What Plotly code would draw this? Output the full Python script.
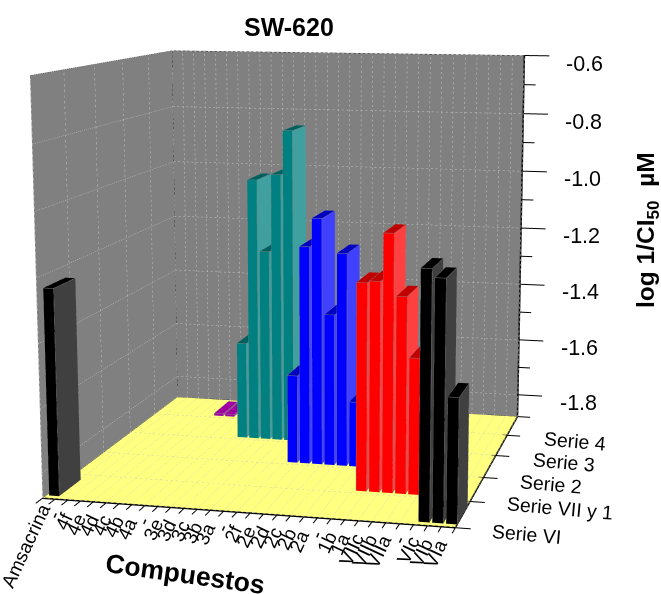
import plotly.graph_objects as go

W, H = 661, 594
x_labels = ["Amsacrina", "-", "4f", "4e", "4d", "4c", "4b", "4a", "-", "3e", "3d", "3c", "3b", "3a", "-",
            "2f", "2e", "2d", "2c", "2b", "2a", "-", "1b", "1a", "VIIc", "VIIb", "VIIa", "-", "VIc", "VIb", "VIa"]
y_labels = ["Serie VI", "Serie VII y 1", "Serie 2", "Serie 3", "Serie 4"]
z_major = [-0.6, -0.8, -1.0, -1.2, -1.4, -1.6, -1.8]
z_minor = [-0.7, -0.9, -1.1, -1.3, -1.5, -1.7]

serie_vi_names = ["Amsacrina", "VIc", "VIb", "VIa"]
serie_vi_values = [-1.235, -1.129, -1.155, -1.501]
serie_vii1_names = ["1b", "1a", "VIIc", "VIIb", "VIIa"]
serie_vii1_values = [-1.227, -1.221, -1.073, -1.264, -1.452]
serie_2_names = ["2f", "2e", "2d", "2c", "2b", "2a"]
serie_2_values = [-1.591, -1.168, -1.076, -1.385, -1.185, -1.667]
serie_3_names = ["3e", "3d", "3c", "3b", "3a"]
serie_3_values = [-1.552, -0.994, -1.234, -0.974, -0.827]
serie_4_names = ["4c", "4b"]
serie_4_values = [-1.872, -1.872]

X0, X1, Y0, Y1, Z0, Z1 = -0.62, 30.38, 0.0, 5.0, -1.88, -0.6
BW, BY0, BY1 = 0.40, 0.12, 0.80

fig = go.Figure()
FLAT = dict(ambient=1, diffuse=0, specular=0, roughness=1, fresnel=0)


def add_lines(segments, color, width):
    xs, ys, zs = [], [], []
    for a, b in segments:
        xs += [a[0], b[0], None]
        ys += [a[1], b[1], None]
        zs += [a[2], b[2], None]
    fig.add_trace(go.Scatter3d(x=xs, y=ys, z=zs, mode="lines", hoverinfo="skip", showlegend=False,
                               line=dict(color=color, width=width)))


def dotted(segments, n=75, duty=0.45):
    out = []
    for a, b in segments:
        for s in range(n):
            t0, t1 = s / n, (s + duty) / n
            out.append((tuple(a[k] + (b[k] - a[k]) * t0 for k in range(3)),
                        tuple(a[k] + (b[k] - a[k]) * t1 for k in range(3))))
    return out


def add_quad(p, color):
    fig.add_trace(go.Mesh3d(x=[q[0] for q in p], y=[q[1] for q in p], z=[q[2] for q in p],
                            i=[0, 0], j=[1, 2], k=[2, 3], color=color, flatshading=True,
                            lighting=FLAT, hoverinfo="skip", showscale=False))


def add_bars(names, values, row, front, side, top):
    vx, vy, vz, ii, jj, kk, fc, edges = [], [], [], [], [], [], [], []
    for name, v in zip(names, values):
        c = x_labels.index(name)
        x0, x1 = c - BW, c + BW
        y0, y1 = row + BY0, row + BY1
        b = len(vx)
        vx += [x0, x1, x1, x0, x0, x1, x1, x0]
        vy += [y0, y0, y1, y1, y0, y0, y1, y1]
        vz += [Z0, Z0, Z0, Z0, v, v, v, v]
        faces = [((0, 1, 5), front), ((0, 5, 4), front), ((1, 2, 6), side), ((1, 6, 5), side),
                 ((4, 5, 6), top), ((4, 6, 7), top), ((0, 3, 7), front), ((0, 7, 4), front),
                 ((3, 2, 6), side), ((3, 6, 7), side)]
        for (a, d, e), col in faces:
            ii.append(b + a)
            jj.append(b + d)
            kk.append(b + e)
            fc.append(col)
        edges += [((x0, y0, Z0), (x0, y0, v)), ((x1, y0, Z0), (x1, y0, v)), ((x1, y1, Z0), (x1, y1, v)),
                  ((x0, y0, v), (x1, y0, v)), ((x1, y0, v), (x1, y1, v)), ((x1, y1, v), (x0, y1, v)),
                  ((x0, y1, v), (x0, y0, v))]
    fig.add_trace(go.Mesh3d(x=vx, y=vy, z=vz, i=ii, j=jj, k=kk, facecolor=fc, flatshading=True,
                            lighting=FLAT, hoverinfo="skip", showscale=False))
    add_lines(edges, "#808080", 1)


# walls and floor
add_quad([(X0, Y0, Z0), (X0, Y1, Z0), (X0, Y1, Z1), (X0, Y0, Z1)], "#808080")
add_quad([(X0, Y1, Z0), (X1, Y1, Z0), (X1, Y1, Z1), (X0, Y1, Z1)], "#808080")
add_quad([(X0, Y0, Z0), (X1, Y0, Z0), (X1, Y1, Z0), (X0, Y1, Z0)], "#FFFF80")

# tick positions sit on the boundaries between categories
x_ticks = [X0 + k for k in range(len(x_labels) + 1)]

# dotted grids
e = 0.01
grid = []
for t in x_ticks:
    grid.append(((t, Y1 - e, Z0), (t, Y1 - e, Z1)))
for z in z_major:
    grid.append(((X0, Y1 - e, z), (X1, Y1 - e, z)))
    grid.append(((X0 + 0.03, Y0, z), (X0 + 0.03, Y1, z)))
for j in range(len(y_labels)):
    grid.append(((X0 + 0.03, j, Z0), (X0 + 0.03, j, Z1)))
add_lines(dotted(grid), "#C8C8C8", 1)
floor = []
for t in x_ticks:
    floor.append(((t, Y0, Z0 + 0.002), (t, Y1, Z0 + 0.002)))
for j in range(len(y_labels)):
    floor.append(((X0, j, Z0 + 0.002), (X1, j, Z0 + 0.002)))
add_lines(dotted(floor), "#D0D0B0", 1)

add_bars(serie_4_names, serie_4_values, 4, "#A000A0", "#A040A0", "#A000A0")
add_bars(serie_3_names, serie_3_values, 3, "#008080", "#40A0A0", "#006060")
add_bars(serie_2_names, serie_2_values, 2, "#0000FF", "#4040FF", "#0000C0")
add_bars(serie_vii1_names, serie_vii1_values, 1, "#FF0000", "#FF4040", "#C00000")
add_bars(serie_vi_names, serie_vi_values, 0, "#000000", "#404040", "#000000")

# frame and axes
add_lines([((X0, Y0, Z1), (X0, Y1, Z1)), ((X0, Y1, Z1), (X1, Y1, Z1)), ((X0, Y1, Z0), (X0, Y1, Z1))], "#303030", 1)
add_lines([((X0, Y0, Z0), (X1, Y0, Z0)), ((X1, Y0, Z0), (X1, Y1, Z0)), ((X1, Y1, Z0), (X1, Y1, Z1)),
           ((X0, Y0, Z0), (X0, Y1, Z0)), ((X0, Y1, Z0), (X1, Y1, Z0))], "#000000", 3)
ticks = [((t, Y0, Z0), (t, Y0 - 0.2, Z0)) for t in x_ticks]
ticks += [((X1 - 0.4, j, Z0), (X1 + 1.1, j, Z0)) for j in range(1, len(y_labels))]
ticks += [((X1, 0, Z0), (X1 + 1.1, 0, Z0)), ((X1, Y1, Z0), (X1 + 1.1, Y1, Z0))]
ticks += [((X1, Y1, z), (X1 + 2.1, Y1, z)) for z in z_major] + [((X1, Y1, z), (X1 + 1.0, Y1, z)) for z in z_minor]
add_lines(ticks, "#000000", 2)

FONT = "Liberation Sans, Arial, sans-serif"
scene_ann = []
for i, t in enumerate(x_labels):
    long_label = len(t) > 4
    scene_ann.append(dict(x=i, y=Y0, z=Z0, text=t, showarrow=False, textangle=-65, xanchor="right", yanchor="top",
                          xshift=7 if long_label else 4, yshift=1 if long_label else -6,
                          font=dict(family=FONT, size=19, color="#000")))
for j, t in enumerate(y_labels):
    scene_ann.append(dict(x=X1, y=j, z=Z0, text=t, showarrow=False, textangle=5, xanchor="left", yanchor="middle",
                          xshift=34, yshift=-6, font=dict(family=FONT, size=19.5, color="#000")))
for z in z_major:
    scene_ann.append(dict(x=X1, y=Y1, z=z, text=f"{z:.1f}", showarrow=False, xanchor="left", yanchor="middle",
                          xshift=40, yshift=-8, font=dict(family=FONT, size=21.5, color="#000")))


def paper(px, py, text, size, angle=0, bold=True):
    return dict(xref="paper", yref="paper", x=px / W, y=1 - py / H, text=f"<b>{text}</b>" if bold else text,
                showarrow=False, textangle=angle, xanchor="center", yanchor="middle",
                font=dict(family=FONT, size=size, color="#000"))


fig.update_layout(
    width=W, height=H, margin=dict(l=0, r=0, t=0, b=0, pad=0), paper_bgcolor="white", showlegend=False,
    annotations=[paper(289, 27, "SW-620", 25), paper(185, 574, "Compuestos", 26.5, 8),
                 paper(647, 230, "log 1/CI<sub>50</sub>  µM", 24.5, -90)],
    scene=dict(
        domain=dict(x=[0, 1], y=[0, 1]),
        xaxis=dict(visible=False, range=[-0.8, 33.0]),
        yaxis=dict(visible=False, range=[-0.4, 5.02]),
        zaxis=dict(visible=False, range=[-1.885, -0.59]),
        aspectmode="manual", aspectratio=dict(x=1.083, y=1.127, z=1.012),
        camera=dict(eye=dict(x=1.119, y=-4.495, z=0.793), center=dict(x=0.044, y=0.043, z=-0.086),
                    up=dict(x=-0.034, y=-0.008, z=1)),
        annotations=scene_ann,
    ),
)

post = """
document.body.style.margin='0';document.body.style.overflow='hidden';
var gd=document.getElementById('{plot_id}');
(function t(){var s=gd._fullLayout&&gd._fullLayout.scene&&gd._fullLayout.scene._scene;
 if(s&&s.glplot){s.glplot.fovy=0.3145;s.glplot.redraw();}else{setTimeout(t,30);}})();
"""
fig.write_html("out.html", post_script=post, config=dict(displayModeBar=False))
